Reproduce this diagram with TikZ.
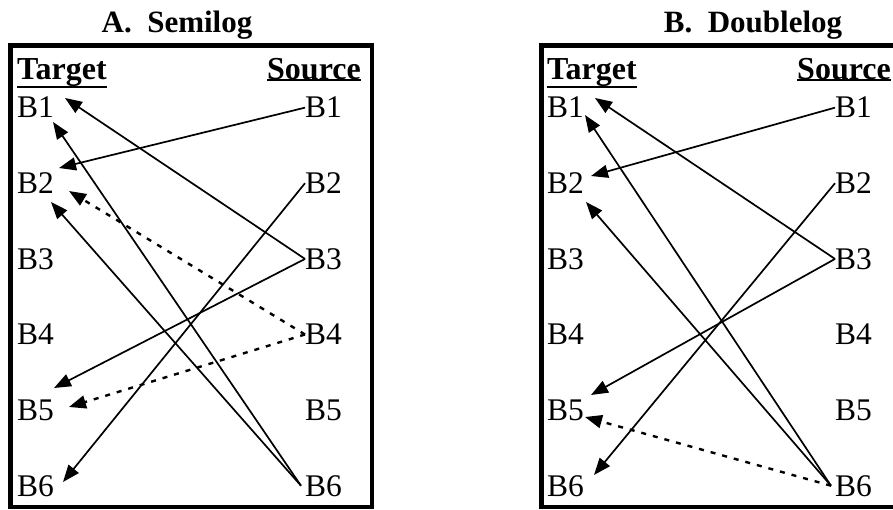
\documentclass[tikz,border=0pt]{standalone}
\usepackage{fontspec}
\setmainfont{Liberation Serif}
\usetikzlibrary{arrows.meta}
\begin{document}
\begin{tikzpicture}[x=1pt,y=-1pt,
  lbl/.style={anchor=base west,inner sep=0pt,font=\fontsize{31.5}{31.5}\selectfont},
  hdr/.style={anchor=base west,inner sep=0pt,font=\fontsize{32}{32}\selectfont\bfseries},
  ttl/.style={anchor=base,inner sep=0pt,font=\fontsize{31}{31}\selectfont\bfseries},
  frame/.style={line width=4.2pt},
  uline/.style={line width=2.4pt},
  conn/.style={line width=1.7pt,-{Triangle[length=17pt,width=13pt]}},
  dconn/.style={conn,line width=2.4pt,dash pattern=on 5pt off 7pt}]
\useasboundingbox (0,0) rectangle (893,510);
\clip (0,0) rectangle (893,510);
% titles
\node[ttl] (ttlA) at (177,33) {A.\ \ Semilog};
\node[ttl] (ttlB) at (753,33) {B.\ \ Doublelog};
% frames
\draw[frame] (10.5,45.5) rectangle (372,507);
\draw[frame] (541.5,45.5) rectangle (903,507);
% headers
\node[hdr] (hTA) at (17,80) {Target};
\node[hdr] (hSA) at (267,80) {Source};
\node[hdr] (hTB) at (547,80) {Target};
\node[hdr] (hSB) at (797,80) {Source};
\foreach \h in {hTA,hSA,hTB,hSB}
  \draw[uline] ([yshift=0.5pt]\h.south west) -- ([yshift=0.5pt]\h.south east);
% labels
\foreach \i in {1,...,6}{
  \pgfmathsetmacro{\yy}{118+75.6*(\i-1)}
  \node[lbl] (tA\i) at (17,\yy) {B\i};
  \node[lbl] (sA\i) at (305,\yy) {B\i};
  \node[lbl] (tB\i) at (547,\yy) {B\i};
  \node[lbl] (sB\i) at (835,\yy) {B\i};
}
% arrow tip points, panel A
\coordinate (pA1a) at (65,98);
\coordinate (pA1b) at (53,122);
\coordinate (pA2a) at (59,168);
\coordinate (pA2b) at (69,191);
\coordinate (pA2c) at (51,202);
\coordinate (pA5a) at (54,388);
\coordinate (pA5b) at (69,407);
\coordinate (pA6a) at (63,482);
% arrow tip points, panel B
\coordinate (pB1a) at (595,98);
\coordinate (pB1b) at (585,115);
\coordinate (pB2a) at (591,176);
\coordinate (pB2b) at (586,202);
\coordinate (pB5a) at (591,395);
\coordinate (pB5b) at (585,417);
\coordinate (pB6a) at (594,475);
% connectors panel A
\draw[conn] (sA1.west) -- (pA2a);
\draw[conn] (sA2.west) -- (pA6a);
\draw[conn] (sA3.west) -- (pA1a);
\draw[conn] (sA3.west) -- (pA5a);
\draw[dconn] (sA4.west) -- (pA2b);
\draw[dconn] (sA4.west) -- (pA5b);
\draw[conn] ([xshift=-4pt]sA6.west) -- (pA1b);
\draw[conn] ([xshift=-4pt]sA6.west) -- (pA2c);
% connectors panel B
\draw[conn] (sB1.west) -- (pB2a);
\draw[conn] (sB2.west) -- (pB6a);
\draw[conn] (sB3.west) -- (pB1a);
\draw[conn] (sB3.west) -- (pB5a);
\draw[conn] ([xshift=-4pt]sB6.west) -- (pB1b);
\draw[conn] ([xshift=-4pt]sB6.west) -- (pB2b);
\draw[dconn] ([xshift=-4pt]sB6.west) -- (pB5b);
\end{tikzpicture}
\end{document}
